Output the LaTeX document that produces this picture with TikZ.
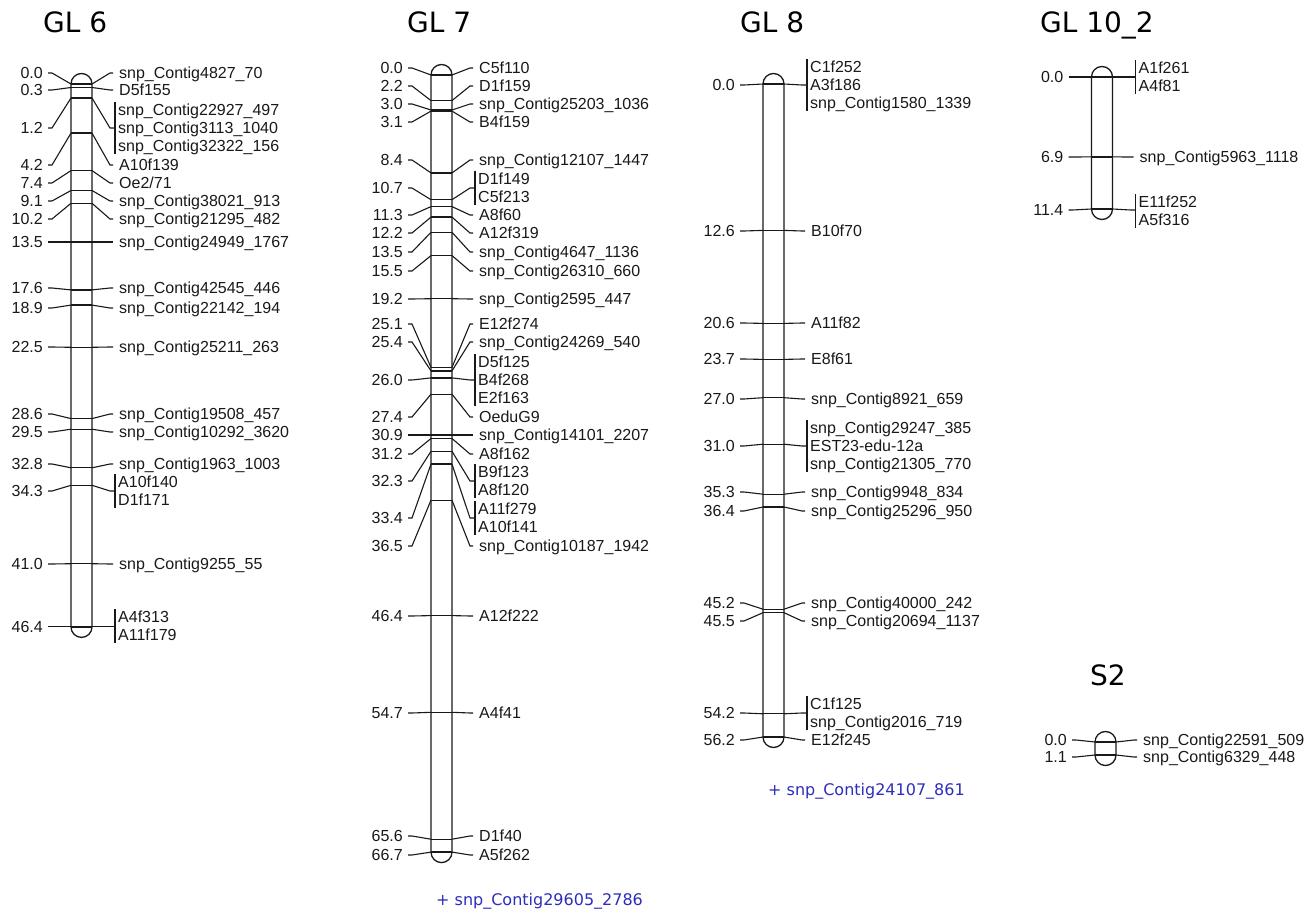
\documentclass[tikz,border=0pt]{standalone}
\usepackage{fontspec}
\setmainfont{Liberation Sans}
\newfontfamily\djv{DejaVu Sans}
\definecolor{extrablue}{RGB}{45,45,190}
\definecolor{ink}{RGB}{25,25,25}
\newcommand\labfont{\fontsize{16}{18}\selectfont}
\tikzset{
  chrom/.style={draw=ink, line width=1.3pt, rounded corners=10.5pt, minimum width=21pt, inner sep=0pt, outer sep=0pt},
  num/.style={anchor=east, inner sep=0pt, font=\labfont, text=ink, text height=11.5pt, text depth=0pt},
  nm/.style={anchor=west, inner sep=0pt, font=\labfont, text=ink, text height=11.5pt, text depth=0pt},
  conn/.style={draw=ink, line width=1.1pt},
  tickline/.style={draw=ink, line width=1.3pt},
  grp/.style={draw=ink, line width=1.1pt},
  ttl/.style={anchor=west, inner sep=0pt, font=\djv\fontsize{28}{30}\selectfont, text=black, text height=20.4pt, text depth=0pt},
  extra/.style={anchor=west, inner sep=0pt, font=\djv\fontsize{16}{18}\selectfont, text=extrablue, text height=11.7pt, text depth=0pt}
}
% single marker: id, bar-left x, marker y, label y, position, name
\newcommand\mk[6]{%
  \coordinate (#1a) at (#2,#3);
  \coordinate (#1b) at (#2+21,#3);
  \node[num] (#1n) at (#2-28,#4) {#5};
  \node[nm] (#1t) at (#2+48,#4) {#6};
  \draw[tickline] (#1a) -- (#1b);
  \draw[conn] ([xshift=5pt]#1n.east) -- ([xshift=9pt]#1n.east) -- (#1a);
  \draw[conn] (#1b) -- ([xshift=-9pt]#1t.west) -- ([xshift=-6pt]#1t.west);
}
% grouped markers: id, bar-left x, marker y, label y, position, top y, bottom y, list
\newcommand\mkg[8]{%
  \coordinate (#1a) at (#2,#3);
  \coordinate (#1b) at (#2+21,#3);
  \coordinate (#1v) at (#2+44,#4);
  \coordinate (#1vt) at (#2+44,#6-8);
  \coordinate (#1vb) at (#2+44,#7+8);
  \node[num] (#1n) at (#2-28,#4) {#5};
  \foreach \yy/\nmtext [count=\kk] in {#8} {\node[nm] (#1t\kk) at (#2+47,\yy) {\nmtext};}
  \draw[tickline] (#1a) -- (#1b);
  \draw[conn] ([xshift=5pt]#1n.east) -- ([xshift=9pt]#1n.east) -- (#1a);
  \draw[conn] (#1b) -- ([xshift=-5pt]#1v) -- (#1v);
  \draw[grp] (#1vt) -- (#1vb);
}
\begin{document}
\begin{tikzpicture}[x=1pt, y=-1pt]
\useasboundingbox (0,0) rectangle (1310,912);
\fill[white] (0,0) rectangle (1310,912);
% titles
\node[ttl] (t6) at (43,22) {GL 6};
\node[ttl] (t7) at (407,22) {GL 7};
\node[ttl] (t8) at (740,22) {GL 8};
\node[ttl] (t10) at (1040,22) {GL 10\_2};
\node[ttl] (ts2) at (1090,675) {S2};
% chromosome bars
\node[chrom, minimum height=563.9pt] (gl6) at (81.5,355.45) {};
\node[chrom, minimum height=798.1pt] (gl7) at (441.5,463.55) {};
\node[chrom, minimum height=674pt] (gl8) at (773.5,410.5) {};
\node[chrom, minimum height=153pt] (gl10) at (1102,143) {};
\node[chrom, minimum height=34pt] (s2) at (1105.5,748.5) {};
% GL 6
\mk{a1}{71}{84}{73}{0.0}{snp\_Contig4827\_70}
\mk{a2}{71}{87.5}{90}{0.3}{D5f155}
\mkg{a3}{71}{98}{128}{1.2}{110}{146}{110/snp\_Contig22927\_497,128/snp\_Contig3113\_1040,146/snp\_Contig32322\_156}
\mk{a4}{71}{133.1}{165}{4.2}{A10f139}
\mk{a5}{71}{170.6}{183}{7.4}{Oe2/71}
\mk{a6}{71}{190.5}{201}{9.1}{snp\_Contig38021\_913}
\mk{a7}{71}{203.3}{219}{10.2}{snp\_Contig21295\_482}
\mk{a8}{71}{242}{242}{13.5}{snp\_Contig24949\_1767}
\mk{a9}{71}{289.9}{288}{17.6}{snp\_Contig42545\_446}
\mk{a10}{71}{305.1}{308}{18.9}{snp\_Contig22142\_194}
\mk{a11}{71}{347.3}{347}{22.5}{snp\_Contig25211\_263}
\mk{a12}{71}{418.6}{414}{28.6}{snp\_Contig19508\_457}
\mk{a13}{71}{429.2}{432}{29.5}{snp\_Contig10292\_3620}
\mk{a14}{71}{467.8}{464}{32.8}{snp\_Contig1963\_1003}
\mkg{a15}{71}{485.3}{491}{34.3}{482}{500}{482/A10f140,500/D1f171}
\mk{a16}{71}{563.7}{564}{41.0}{snp\_Contig9255\_55}
\mkg{a17}{71}{626.9}{626.9}{46.4}{617}{635}{617/A4f313,635/A11f179}
% GL 7
\mk{b1}{431}{75}{68}{0.0}{C5f110}
\mk{b2}{431}{100.6}{86}{2.2}{D1f159}
\mk{b3}{431}{110}{104}{3.0}{snp\_Contig25203\_1036}
\mk{b4}{431}{111.1}{122}{3.1}{B4f159}
\mk{b5}{431}{172.9}{160}{8.4}{snp\_Contig12107\_1447}
\mkg{b6}{431}{199.7}{188}{10.7}{179}{197}{179/D1f149,197/C5f213}
\mk{b7}{431}{206.6}{215}{11.3}{A8f60}
\mk{b8}{431}{217.1}{233}{12.2}{A12f319}
\mk{b9}{431}{232.3}{252}{13.5}{snp\_Contig4647\_1136}
\mk{b10}{431}{255.6}{271}{15.5}{snp\_Contig26310\_660}
\mk{b11}{431}{298.7}{299}{19.2}{snp\_Contig2595\_447}
\mk{b12}{431}{367.4}{324}{25.1}{E12f274}
\mk{b13}{431}{370.9}{342}{25.4}{snp\_Contig24269\_540}
\mkg{b14}{431}{377.9}{380}{26.0}{362}{398}{362/D5f125,380/B4f268,398/E2f163}
\mk{b15}{431}{394.2}{417}{27.4}{OeduG9}
\mk{b16}{431}{435}{435}{30.9}{snp\_Contig14101\_2207}
\mk{b17}{431}{438.5}{454}{31.2}{A8f162}
\mkg{b18}{431}{451.3}{481}{32.3}{472}{490}{472/B9f123,490/A8f120}
\mkg{b19}{431}{464.1}{518}{33.4}{509}{527}{509/A11f279,527/A10f141}
\mk{b20}{431}{500.2}{546}{36.5}{snp\_Contig10187\_1942}
\mk{b21}{431}{615.6}{616}{46.4}{A12f222}
\mk{b22}{431}{712.3}{713}{54.7}{A4f41}
\mk{b23}{431}{839.2}{836}{65.6}{D1f40}
\mk{b24}{431}{852.1}{855}{66.7}{A5f262}
\node[extra] (x7) at (436,900) {+ snp\_Contig29605\_2786};
% GL 8
\mkg{c1}{763}{84}{85}{0.0}{67}{103}{67/C1f252,85/A3f186,103/snp\_Contig1580\_1339}
\mk{c2}{763}{230.4}{231}{12.6}{B10f70}
\mk{c3}{763}{323.4}{323}{20.6}{A11f82}
\mk{c4}{763}{359.4}{359}{23.7}{E8f61}
\mk{c5}{763}{397.7}{399}{27.0}{snp\_Contig8921\_659}
\mkg{c6}{763}{444.2}{446}{31.0}{428}{464}{428/snp\_Contig29247\_385,446/EST23-edu-12a,464/snp\_Contig21305\_770}
\mk{c7}{763}{494.2}{492}{35.3}{snp\_Contig9948\_834}
\mk{c8}{763}{507}{511}{36.4}{snp\_Contig25296\_950}
\mk{c9}{763}{609.2}{603}{45.2}{snp\_Contig40000\_242}
\mk{c10}{763}{612.7}{621}{45.5}{snp\_Contig20694\_1137}
\mkg{c11}{763}{713.8}{713}{54.2}{704}{722}{704/C1f125,722/snp\_Contig2016\_719}
\mk{c12}{763}{737}{740}{56.2}{E12f245}
\node[extra] (x8) at (768,790) {+ snp\_Contig24107\_861};
% GL 10_2
\mkg{d1}{1091.5}{77}{77}{0.0}{68}{86}{68/A1f261,86/A4f81}
\mk{d2}{1091.5}{156.9}{157}{6.9}{snp\_Contig5963\_1118}
\mkg{d3}{1091.5}{209}{210}{11.4}{202}{220}{202/E11f252,220/A5f316}
% S2
\mk{e1}{1095}{742}{740}{0.0}{snp\_Contig22591\_509}
\mk{e2}{1095}{755}{757}{1.1}{snp\_Contig6329\_448}
\end{tikzpicture}
\end{document}
